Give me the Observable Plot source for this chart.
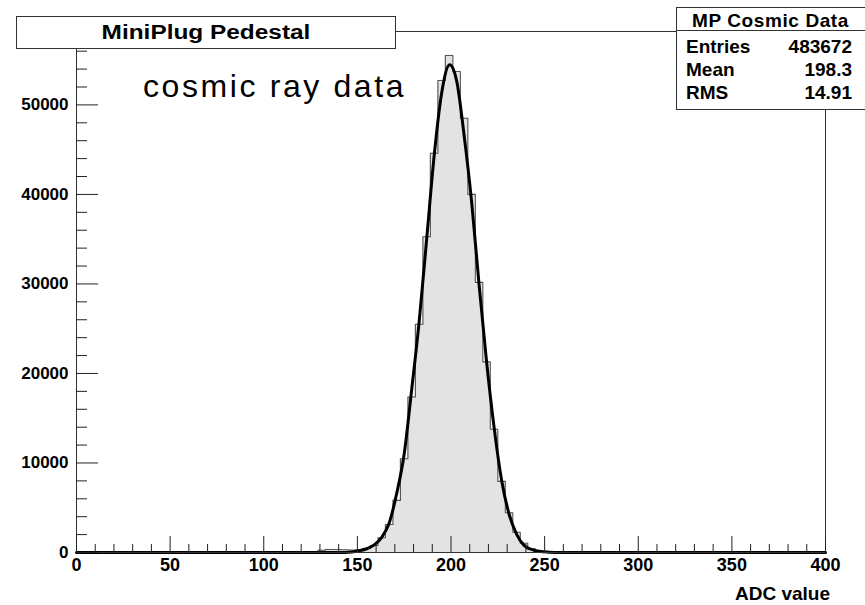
<!DOCTYPE html>
<html>
<head>
<meta charset="utf-8">
<script src="https://cdn.jsdelivr.net/npm/d3@7"></script>
<script src="https://cdn.jsdelivr.net/npm/@observablehq/plot@0.6"></script>
<style>
  html, body { margin: 0; padding: 0; background: #fff; }
  #wrap { position: relative; width: 865px; height: 605px; overflow: hidden;
          font-family: "Liberation Sans", Arial, Helvetica, sans-serif; color: #000; }
  #wrap svg { position: absolute; left: 0; top: 0; }
  .box { position: absolute; background: #fff; border: 1px solid #333; box-sizing: border-box; }
  .t { position: absolute; white-space: nowrap; }
</style>
</head>
<body>
<div id="wrap"></div>
<script>
// ---- data ----
const binLow = [129, 133, 137, 141, 145, 149, 153, 157, 161, 165, 169, 173, 177, 181, 185, 189, 193,
                197, 201, 205, 209, 213, 217, 221, 225, 229, 233, 237, 241, 245, 249];
const binCounts = [250, 330, 330, 300, 280, 300, 450, 780, 1640, 3130, 5820, 10480, 17370, 25500, 35270, 44600, 52720,
                   55520, 53730, 48510, 40010, 30170, 21290, 13760, 7940, 4440, 2270, 1040, 410, 200, 120];
const binWidth = 4;

const fitX = [0, 140, 147, 151, 155, 159, 163, 167, 171, 175, 179, 183, 187, 191, 195, 199.3,
              203, 207, 211, 215, 219, 223, 227, 231, 235, 239, 243, 247, 252, 260, 400];
const fitY = [0, 0, 60, 200, 420, 850, 1700, 3300, 6600, 11000, 18200, 25800, 35000, 44300, 51300, 54480,
              52700, 46600, 39200, 29900, 21300, 14000, 8100, 4300, 2050, 800, 350, 130, 40, 0, 0];

const xTicks = [0, 50, 100, 150, 200, 250, 300, 350, 400];
const xMinor = [10, 20, 30, 40, 60, 70, 80, 90, 110, 120, 130, 140, 160, 170, 180, 190,
                210, 220, 230, 240, 260, 270, 280, 290, 310, 320, 330, 340, 360, 370, 380, 390];
const yTicks = [0, 10000, 20000, 30000, 40000, 50000];
const yMinor = [2000, 4000, 6000, 8000, 12000, 14000, 16000, 18000, 22000, 24000, 26000, 28000,
                32000, 34000, 36000, 38000, 42000, 44000, 46000, 48000, 52000, 54000, 56000];
const yMax = 58200;

const titleText = "MiniPlug Pedestal";
const annotation = "cosmic ray data";
const xLabel = "ADC value";
const statsTitle = "MP Cosmic Data";
const statsNames = ["Entries", "Mean", "RMS"];
const statsValues = ["483672", "198.3", "14.91"];

// ---- derived tables ----
const bins = binLow.map((x, i) => ({x1: x, x2: x + binWidth, count: binCounts[i]}));
const outline = [{x: binLow[0], y: 0}]
  .concat(binLow.map((x, i) => ({x, y: binCounts[i]})))
  .concat([{x: binLow[binLow.length - 1] + binWidth, y: 0}]);
const fit = fitX.map((x, i) => ({x, y: fitY[i]}));

const font = "Liberation Sans, Arial, Helvetica, sans-serif";

const chart = Plot.plot({
  width: 865,
  height: 605,
  marginLeft: 76,
  marginRight: 40,
  marginTop: 31,
  marginBottom: 53,
  style: {fontFamily: font, background: "#fff", overflow: "visible"},
  x: {domain: [0, 400], label: null},
  y: {domain: [0, yMax], label: null},
  marks: [
    Plot.rectY(bins, {x1: "x1", x2: "x2", y: "count", fill: "#e3e3e3", stroke: "#e3e3e3", strokeWidth: 0.6}),
    Plot.line(outline, {x: "x", y: "y", curve: "step-after", stroke: "#555", strokeWidth: 1.1}),
    Plot.line(fit, {x: "x", y: "y", curve: "monotone-x", stroke: "#000", strokeWidth: 3}),
    Plot.frame({stroke: "#333", strokeWidth: 1}),
    Plot.ruleX(xTicks, {x: d => d, y1: 0, y2: 0, insetTop: -16, stroke: "#222", strokeWidth: 1}),
    Plot.ruleX(xMinor, {x: d => d, y1: 0, y2: 0, insetTop: -8, stroke: "#222", strokeWidth: 1}),
    Plot.ruleY(yTicks, {y: d => d, x1: 0, x2: 0, insetRight: -22, stroke: "#222", strokeWidth: 1}),
    Plot.ruleY(yMinor, {y: d => d, x1: 0, x2: 0, insetRight: -11, stroke: "#222", strokeWidth: 1}),
    Plot.axisX({ticks: xTicks, tickSize: 0, tickPadding: 6, fontSize: 18, fontWeight: "bold",
                tickFormat: d => String(d), label: null, fill: "#000"}),
    Plot.axisY({ticks: yTicks, tickSize: 0, tickPadding: 8, fontSize: 17, fontWeight: "bold",
                tickFormat: d => String(d), label: null, fill: "#000"})
  ]
});

const wrap = document.getElementById("wrap");
wrap.appendChild(chart);

function addText(txt, css) {
  const d = document.createElement("div");
  d.className = "t";
  d.textContent = txt;
  Object.assign(d.style, css);
  wrap.appendChild(d);
  return d;
}

// title box
const tb = document.createElement("div");
tb.className = "box";
Object.assign(tb.style, {left: "16px", top: "16px", width: "380px", height: "33px"});
wrap.appendChild(tb);
const tt = addText(titleText, {left: "16px", width: "380px", top: "21.5px", fontSize: "20px", lineHeight: "20px",
  fontWeight: "bold", textAlign: "center", transform: "scaleX(1.22)", transformOrigin: "206px 0"});
tt.style.transformOrigin = "190px 0";

// annotation
addText(annotation, {left: "143px", top: "69.5px", fontSize: "32px", lineHeight: "32px", letterSpacing: "2.6px"});

// x axis label
addText(xLabel, {right: "35px", top: "584px", fontSize: "19px", lineHeight: "19px", fontWeight: "bold"});

// stats box
const sb = document.createElement("div");
sb.className = "box";
Object.assign(sb.style, {left: "676px", top: "7px", width: "190px", height: "103px"});
wrap.appendChild(sb);
const sep = document.createElement("div");
Object.assign(sep.style, {position: "absolute", left: "676px", top: "30px", width: "190px", height: "1px", background: "#333"});
wrap.appendChild(sep);
addText(statsTitle, {left: "676px", width: "189px", top: "11px", fontSize: "19px", lineHeight: "19px",
  fontWeight: "bold", textAlign: "center", letterSpacing: "0.6px"});
const rowTops = [36.6, 59.9, 83.2];
statsNames.forEach((n, i) => {
  addText(n, {left: "686px", top: rowTops[i] + "px", fontSize: "19px", lineHeight: "19px", fontWeight: "bold"});
  addText(statsValues[i], {right: "13px", top: rowTops[i] + "px", fontSize: "19px", lineHeight: "19px", fontWeight: "bold"});
});
</script>
</body>
</html>
